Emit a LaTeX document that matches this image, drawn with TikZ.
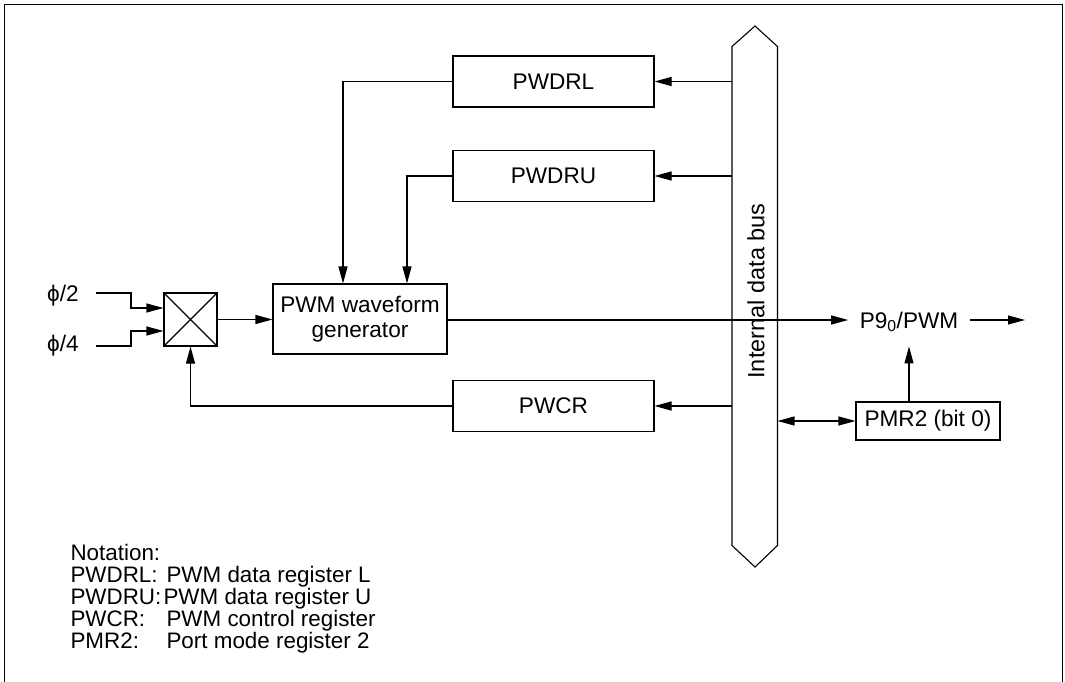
\documentclass[tikz,border=0pt]{standalone}
\usepackage{fontspec}
\setmainfont{Liberation Sans}
\usetikzlibrary{arrows.meta}
\begin{document}
\begin{tikzpicture}[x=1pt,y=-1pt,
  line width=1.1pt,
  every node/.style={font=\fontsize{22.6}{25}\selectfont},
  reg/.style={draw, minimum width=201pt, minimum height=51pt, inner sep=0pt},
  arr/.style={-{Triangle[length=17pt,width=9pt]}},
  arrtwo/.style={{Triangle[length=17pt,width=9pt]}-{Triangle[length=17pt,width=9pt]}}]
\useasboundingbox (0,0) rectangle (1065,682);
% frame
\draw (4.5,690) -- (4.5,4.5) -- (1062.5,4.5) -- (1062.5,690);
% bus
\draw (755,26) -- (777.5,46.5) -- (777.5,545.5) -- (755,567) -- (732,545.5) -- (732,46.5) -- cycle;
\coordinate (busL) at (732,0);
\coordinate (busR) at (777.5,0);
\node[rotate=90, font=\fontsize{23.5}{25}\selectfont] (bustext) at (756,291) {Internal data bus};
% registers
\node[reg] (pwdrl) at (553.5,81.5) {PWDRL};
\node[reg] (pwdru) at (553.5,176) {PWDRU};
\node[reg] (pwcr) at (553.5,406) {PWCR};
\node[draw, minimum width=174pt, minimum height=70pt, inner sep=0pt, align=center] (pwm) at (360,319) {PWM waveform\\generator};
% mux
\node[draw, minimum size=53pt, inner sep=0pt] (mux) at (190.5,319.5) {};
\draw (mux.north west) -- (mux.south east);
\draw (mux.north east) -- (mux.south west);
% inputs
\node (phi2) at (63,296) {ϕ/2};
\node (phi4) at (63,346) {ϕ/4};
\coordinate (in2) at (96,293);
\coordinate (in4) at (96,346);
\draw[arr] (in2) -- (131,293) -- (131,308) -- (mux.west |- 0,308);
\draw[arr] (in4) -- (131,346) -- (131,331) -- (mux.west |- 0,331);
% bus to registers
\draw[arr] (busL |- pwdrl.east) -- (pwdrl.east);
\draw[arr] (busL |- pwdru.east) -- (pwdru.east);
\draw[arr] (busL |- pwcr.east) -- (pwcr.east);
% registers to PWM
\coordinate (c1) at (343,0);
\coordinate (c2) at (407,0);
\draw[arr] (pwdrl.west) -| (c1 |- pwm.north);
\draw[arr] (pwdru.west) -| (c2 |- pwm.north);
\draw[arr] (mux.east) -- (pwm.west |- mux.east);
\draw[arr] (pwcr.west) -| (mux.south);
% output
\node[inner xsep=11pt, inner ysep=0pt, anchor=base] (p9) at (909,328) {P9\textsubscript{0}/PWM};
\coordinate (out) at (1025,320);
\draw[arr] (pwm.east |- 0,320) -- (p9.west |- 0,320);
\draw[arr] (p9.east |- 0,320) -- (out);
\node[draw, minimum width=144pt, minimum height=38pt, inner sep=0pt] (pmr) at (928,421) {PMR2 (bit 0)};
\draw[arr] (pmr.north -| p9.south) -- ++(0,-55);
\draw[arrtwo] (busR |- pmr.west) -- (pmr.west);
% notation
\node[anchor=base west, align=left, inner sep=0pt, font=\fontsize{22.4}{22}\selectfont] (notes) at (70,648)
{Notation:\\
\makebox[96pt][l]{PWDRL:}PWM data register L\\
\makebox[93pt][l]{PWDRU:}PWM data register U\\
\makebox[96pt][l]{PWCR:}PWM control register\\
\makebox[96pt][l]{PMR2:}Port mode register 2};
\end{tikzpicture}
\end{document}
